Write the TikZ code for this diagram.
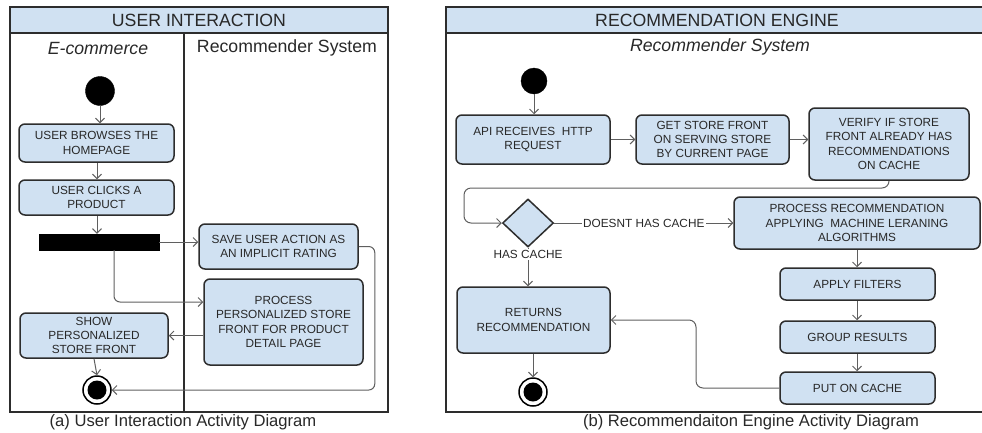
\documentclass[tikz,border=0pt]{standalone}
\usepackage{fontspec}
\setmainfont{Liberation Sans}
\usetikzlibrary{arrows.meta,shapes.geometric,calc}

\definecolor{actfill}{RGB}{208,225,242}
\definecolor{actline}{RGB}{45,45,45}
\definecolor{flowline}{RGB}{95,95,95}
\definecolor{txt}{RGB}{40,40,40}

\tikzset{
  boxfont/.style={font=\fontsize{11.8}{14.2}\selectfont},
  action/.style={draw=actline, fill=actfill, line width=1.5pt, rounded corners=6pt,
    align=center, inner sep=0pt, text=txt, boxfont},
  initial/.style={circle, fill=black, draw=black, inner sep=0pt},
  finalring/.style={circle, draw=black, fill=white, line width=1.5pt, inner sep=0pt, minimum size=28pt},
  finaldot/.style={circle, fill=black, inner sep=0pt, minimum size=19pt},
  forkbar/.style={rectangle, fill=black, draw=black, inner sep=0pt},
  decision/.style={diamond, aspect=1.05, draw=actline, fill=actfill, line width=1.5pt, inner sep=0pt},
  flow/.style={draw=flowline, line width=1pt, -{Straight Barb[length=4.5pt,width=9pt]}},
  frame/.style={draw=actline, line width=1.5pt},
  header/.style={draw=actline, fill=actfill, line width=1.5pt},
  headtext/.style={font=\fontsize{17.7}{20}\selectfont, text=txt},
  lanetext/.style={font=\fontsize{17.7}{20}\selectfont, text=txt},
  caption/.style={font=\fontsize{16.6}{19}\selectfont, text=txt},
  guard/.style={boxfont, text=txt, fill=white, inner sep=1.5pt},
}

\begin{document}
\begin{tikzpicture}[x=1pt, y=-1pt]
\useasboundingbox (0,0) rectangle (982,432);
\clip (0,0) rectangle (982,432);

% ---------- swimlane frame: user interaction ----------
\draw[frame] (10,7) rectangle (388,412);
\draw[header] (10,7) rectangle (388,33);
\draw[frame] (184,33) -- (184,412);
\node[headtext] (hdA) at (199,20) {USER INTERACTION};
\node[lanetext] (laneEc) at (98,48) {\itshape E-commerce};
\node[lanetext] (laneRs) at (287,48) {Recommender System};

% ---------- nodes: user interaction ----------
\node[initial, minimum size=29pt] (startA) at (100,91) {};
\node[action, minimum width=155pt, minimum height=38pt] (browse) at (96.5,143) {USER BROWSES THE\\HOMEPAGE};
\node[action, minimum width=155pt, minimum height=35pt] (clicks) at (96.5,197.5) {USER CLICKS A\\PRODUCT};
\node[forkbar, minimum width=120pt, minimum height=16pt] (fork) at (99,242) {};
\node[action, minimum width=159pt, minimum height=45pt] (save) at (278.5,246.5) {SAVE USER ACTION AS\\AN IMPLICIT RATING};
\node[action, minimum width=159pt, minimum height=86pt] (process) at (283.5,322) {PROCESS\\PERSONALIZED STORE\\FRONT FOR PRODUCT\\DETAIL PAGE};
\node[action, minimum width=148pt, minimum height=45pt] (show) at (94,335.5) {SHOW\\PERSONALIZED\\STORE FRONT};
\node[finalring] (endA) at (97,390) {};
\node[finaldot] (endAdot) at (endA) {};

% ---------- connectors: user interaction ----------
\draw[flow] (startA) -- (startA |- browse.north);
\draw[flow] (browse.south -| 97,0) -- (clicks.north -| 97,0);
\draw[flow] (clicks.south -| 97,0) -- (fork.north -| 97,0);
\draw[flow] (fork.east) -- (fork.east -| save.west);
\coordinate (forkOut) at (114,250);
\draw[flow, rounded corners=6pt] (forkOut) |- ($(process.west)+(0,-20)$);
\draw[flow] (process.west |- show.east) -- (show.east);
\draw[flow] (show.south) -- (endA.north);
\draw[flow, rounded corners=6pt] (save.east) -- ++(16,0) |- (endA.east);

% ---------- swimlane frame: recommendation engine ----------
\draw[frame] (446,7) rectangle (988,412);
\draw[header] (446,7) rectangle (988,33);
\node[headtext] (hdB) at (717,20) {RECOMMENDATION ENGINE};
\node[lanetext] (laneRs2) at (720,47) {\itshape Recommender System};

% ---------- nodes: recommendation engine ----------
\node[initial, minimum size=26pt] (startB) at (534,81) {};
\node[action, minimum width=154pt, minimum height=49pt] (api) at (533,139.5) {API RECEIVES\ \ HTTP\\REQUEST};
\node[action, minimum width=153pt, minimum height=49pt] (get) at (712.5,139.5) {GET STORE FRONT\\ON SERVING STORE\\BY CURRENT PAGE};
\node[action, minimum width=160pt, minimum height=72pt] (verify) at (889,144) {VERIFY IF STORE\\FRONT ALREADY HAS\\RECOMMENDATIONS\\ON CACHE};
\node[decision, minimum width=51pt, minimum height=48pt] (dec) at (528,223) {};
\node[action, minimum width=246pt, minimum height=52pt] (procrec) at (857,223) {PROCESS RECOMMENDATION\\APPLYING\ \ MACHINE LERANING\\ALGORITHMS};
\node[action, minimum width=155pt, minimum height=32pt] (filters) at (857.5,284) {APPLY FILTERS};
\node[action, minimum width=155pt, minimum height=32pt] (group) at (857.5,337) {GROUP RESULTS};
\node[action, minimum width=155pt, minimum height=32pt] (cache) at (857.5,388) {PUT ON CACHE};
\node[action, minimum width=153pt, minimum height=66pt] (returns) at (533.5,320) {RETURNS\\RECOMMENDATION};
\node[finalring] (endB) at (533,392) {};
\node[finaldot] (endBdot) at (endB) {};

% ---------- connectors: recommendation engine ----------
\draw[flow] (startB) -- (startB |- api.north);
\draw[flow] (api.east) -- (get.west);
\draw[flow] (get.east) -- (get.east -| verify.west);
\coordinate (loopTop) at (464,188);
\draw[flow, rounded corners=7pt] (verify.south) |- (loopTop) |- (dec.west);
\draw[flow] (dec.east) -- node[guard] (noCache) {DOESNT HAS CACHE} (procrec.west);
\draw[flow] (dec.south) -- node[guard, pos=0.17] (hasCache) {HAS CACHE} (dec.south |- returns.north);
\draw[flow] (procrec.south -| 857,0) -- (filters.north -| 857,0);
\draw[flow] (filters.south -| 857,0) -- (group.north -| 857,0);
\draw[flow] (group.south -| 857,0) -- (cache.north -| 857,0);
\coordinate (loopBack) at (696,350);
\draw[flow, rounded corners=7pt] (cache.west) -| (loopBack) |- (returns.east);
\draw[flow] (returns.south -| endB) -- (endB.north);

% ---------- captions ----------
\node[caption] (capA) at (183,422) {(a) User Interaction Activity Diagram};
\node[caption] (capB) at (751,422) {(b) Recommendaiton Engine Activity Diagram};
\end{tikzpicture}
\end{document}
